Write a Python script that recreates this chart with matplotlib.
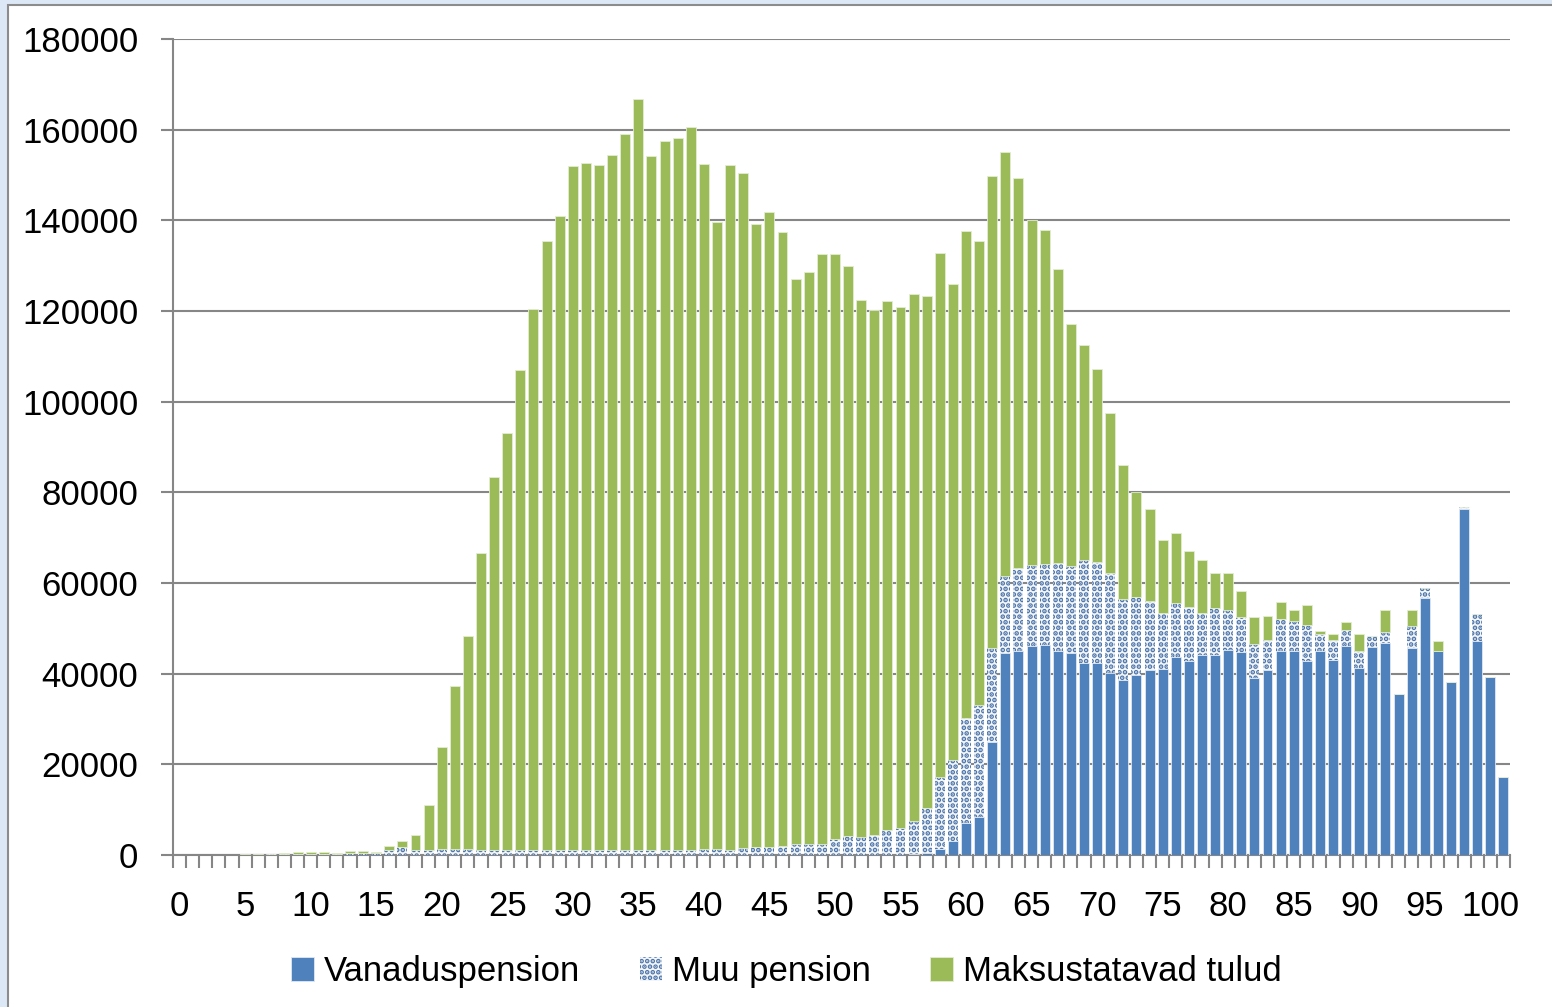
import numpy as np
import matplotlib
matplotlib.use("Agg")
import matplotlib.pyplot as plt
from matplotlib.patches import Rectangle

plt.rcParams["font.family"] = ["Liberation Sans", "DejaVu Sans"]
plt.rcParams["hatch.linewidth"] = 2.4

ages = list(range(0, 102))

# Vanaduspension (old-age pension)
vanadus = [0] * 56 + [
    200, 500, 1400, 3100, 7100, 8400, 25000, 44600, 44900, 46000,
    46400, 44900, 44500, 42300, 42300, 40200, 38500, 39600, 40700, 41000,
    43700, 42900, 44200, 44200, 45300, 44700, 39100, 40700, 44900, 44900,
    42700, 44900, 43100, 46000, 41300, 45900, 46700, 35500, 45700, 56600,
    44900, 38200, 76300, 47200, 39300, 17300,
]

# Muu pension (other pension)
muu = [
    0, 50, 50, 30, 30, 100, 100, 150, 200, 250,
    300, 300, 300, 500, 500, 400, 1000, 1700, 1200, 1200,
    1300, 1300, 1300, 1200, 1200, 1200, 1200, 1100, 1100, 1100,
    1100, 1200, 1200, 1200, 1200, 1200, 1200, 1200, 1200, 1100,
    1250, 1250, 1100, 1550, 1750, 1750, 2050, 2350, 2500, 2500,
    3500, 4100, 4000, 4400, 5500, 5900, 7200, 9900, 15800, 17800,
    23200, 24700, 20700, 17000, 18300, 18000, 17800, 19500, 19300, 22700,
    22300, 21900, 18000, 17300, 15300, 12400, 11800, 11700, 9200, 10200,
    8700, 7800, 7400, 6800, 7200, 6800, 8000, 3800, 4400, 3600,
    3600, 2300, 2600, 0, 4900, 2400, 0, 0, 400, 5900,
    0, 0,
]

# Maksustatavad tulud (taxable income)
tulud = [
    0, 30, 30, 20, 20, 200, 200, 150, 240, 340,
    440, 440, 200, 380, 460, 340, 980, 1390, 3250, 9900,
    22600, 36000, 47000, 65400, 82200, 91900, 105800, 119300, 134300, 139800,
    150900, 151400, 150900, 153200, 157900, 165600, 152900, 156200, 156900, 159400,
    151250, 138450, 151200, 148850, 137350, 140050, 135350, 124600, 126000, 130000,
    129000, 125800, 118400, 115750, 116600, 114900, 116350, 112800, 115600, 105100,
    107300, 102300, 104000, 93550, 86100, 76000, 73700, 64900, 53300, 47400,
    42500, 35500, 29600, 23250, 20300, 16100, 15500, 12400, 11600, 7900,
    8200, 5800, 6000, 5300, 3600, 2400, 4400, 800, 1300, 1800,
    3900, 100, 4700, 0, 3500, 0, 2400, 0, 0, 0,
    0, 0,
]

series_names = ["Vanaduspension", "Muu pension", "Maksustatavad tulud"]

blue = "#4f81bd"
green = "#9bbb59"
grid_gray = "#868686"

fig = plt.figure(figsize=(15.52, 10.07), dpi=100)
fig.patch.set_facecolor("#dce8f6")
# white chart area with grey frame, kept behind the axes
fig.patches.append(Rectangle((8 / 1552, -0.01), 1.0, 1 - 5 / 1007 + 0.01,
                             transform=fig.transFigure, facecolor="white",
                             edgecolor="#8c8c8c", linewidth=1.5, zorder=-10))

ax = fig.add_axes([173 / 1552, 1 - 855 / 1007, (1510 - 173) / 1552, (855 - 39) / 1007])
ax.set_facecolor("none")

x = np.array(ages)
v = np.array(vanadus)
m = np.array(muu)
t = np.array(tulud)
w = 0.76

ax.bar(x, v, width=w, color=blue, edgecolor="#dfe8f3", linewidth=0.6,
       label=series_names[0], zorder=3)
ax.bar(x, m, width=w, bottom=v, facecolor="#f2f6fb", edgecolor="#4d74a8",
       hatch="...", linewidth=0, label=series_names[1], zorder=3)
ax.bar(x, t, width=w, bottom=v + m, color=green, edgecolor="#e3edd3", linewidth=0.6,
       label=series_names[2], zorder=3)

ax.set_xlim(-0.5, 101.5)
ax.set_ylim(0, 180000)
ax.set_yticks(np.arange(0, 180001, 20000))
ax.yaxis.grid(True, color=grid_gray, linewidth=1.5, zorder=1)
ax.set_axisbelow(True)

ax.set_xticks(np.arange(0, 101, 5))
ax.set_xticks(np.arange(-0.5, 102, 1), minor=True)
ax.tick_params(axis="x", which="major", length=0, labelsize=25, pad=25)
ax.tick_params(axis="x", which="minor", length=9, width=1.5, color=grid_gray, direction="out")
ax.tick_params(axis="y", which="major", length=9, width=1.5, color=grid_gray,
               labelsize=25, pad=16)

for s in ["top", "right"]:
    ax.spines[s].set_visible(False)
for s in ["left", "bottom"]:
    ax.spines[s].set_color(grid_gray)
    ax.spines[s].set_linewidth(1.5)

ax.legend(loc="center", bbox_to_anchor=(0.459, -0.143), ncol=3, frameon=False,
          fontsize=25, handlelength=0.65, handleheight=0.65, handletextpad=0.3,
          columnspacing=1.7)

fig.savefig("out.png", dpi=100, facecolor=fig.get_facecolor())
